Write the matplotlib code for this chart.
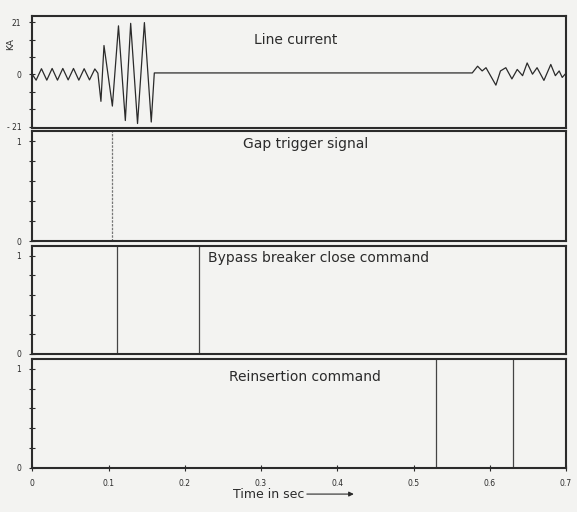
import matplotlib
matplotlib.use('Agg')
import matplotlib.pyplot as plt

# line current in kA, turning points
t_line = [0.000, 0.005, 0.012, 0.019, 0.026, 0.033, 0.040, 0.047, 0.054, 0.061,
          0.068, 0.075, 0.082, 0.086,
          0.090, 0.094, 0.105, 0.113, 0.122, 0.129, 0.138, 0.147, 0.156, 0.160,
          0.577, 0.584, 0.590, 0.595, 0.608, 0.614, 0.621, 0.629, 0.636, 0.643,
          0.649, 0.656, 0.662, 0.671, 0.680, 0.686, 0.691, 0.695, 0.700]
i_line = [0.0, -2.3, 2.3, -2.3, 2.4, -2.3, 2.4, -2.2, 2.4, -2.3,
          2.3, -2.2, 2.2, 0.5,
          -10.8, 11.6, -12.7, 19.5, -18.5, 20.5, -19.7, 20.8, -19.1, 0.6,
          0.6, 3.3, 1.4, 2.7, -4.3, 1.4, 2.7, -1.8, 2.0, -0.5,
          4.6, 0.1, 2.7, -2.4, 4.0, -0.5, 1.4, -1.2, 0.5]

# command / trigger pulses (s)
gap_trigger = [0.105]
bypass_close = [0.111, 0.219]
reinsertion = [0.529, 0.630]

x_ticks = [0, 0.1, 0.2, 0.3, 0.4, 0.5, 0.6, 0.7]
x_labels = ['0', '0.1', '0.2', '0.3', '0.4', '0.5', '0.6', '0.7']

plt.rcParams['font.family'] = ['DejaVu Sans']

bg = '#f3f3f1'
ink = '#2b2b2b'

fig = plt.figure(figsize=(5.77, 5.12), dpi=100, facecolor=bg)
boxes = [(0.056, 0.750, 0.925, 0.219),
         (0.056, 0.529, 0.925, 0.215),
         (0.056, 0.309, 0.925, 0.211),
         (0.056, 0.086, 0.925, 0.213)]
axes = [fig.add_axes(b, facecolor=bg) for b in boxes]

for ax in axes:
    ax.set_xlim(0, 0.7)
    for s in ax.spines.values():
        s.set_linewidth(1.5)
        s.set_color(ink)
    ax.tick_params(axis='y', direction='inout', length=4, width=0.8,
                   labelsize=5.5, colors=ink, pad=6)
    ax.tick_params(axis='x', bottom=False, labelbottom=False)

# panel 1: line current
ax = axes[0]
ax.plot(t_line, i_line, color=ink, lw=0.9)
ax.set_ylim(-21.5, 23.5)
ax.set_yticks([-21, -14, -7, 0, 7, 14, 21])
ax.set_yticklabels(['- 21', '', '', '0', '', '', '21'])
ax.set_ylabel('KA', fontsize=6.5, color=ink)
ax.yaxis.set_label_coords(-0.033, 0.75)
ax.text(0.345, 13.8, 'Line current', fontsize=10, ha='center', va='center', color=ink)

# pulse panels
pulse_sets = [gap_trigger, bypass_close, reinsertion]
titles = ['Gap trigger signal', 'Bypass breaker close command', 'Reinsertion command']
title_x = [0.358, 0.376, 0.358]
title_y = [0.97, 0.98, 0.92]
styles = [dict(color='#777777', lw=0.9, ls=(0, (2, 1))),
          dict(color='#444444', lw=0.9),
          dict(color='#444444', lw=0.9)]
for ax, pulses, title, tx, ty, st in zip(axes[1:], pulse_sets, titles, title_x, title_y, styles):
    for p in pulses:
        ax.axvline(p, **st)
    ax.set_ylim(0, 1.1)
    ax.set_yticks([0, 0.2, 0.4, 0.6, 0.8, 1.0])
    ax.set_yticklabels(['0', '', '', '', '', '1'])
    ax.text(tx, ty, title, fontsize=10, ha='center', va='center', color=ink)

# time axis on the bottom panel
ax = axes[3]
ax.tick_params(axis='x', bottom=True, labelbottom=True, direction='inout',
               length=4, width=0.8, labelsize=5.5, colors=ink, pad=6)
ax.set_xticks(x_ticks)
ax.set_xticklabels(x_labels)

fig.text(0.465, 0.035, 'Time in sec', fontsize=9, ha='center', va='center', color=ink)
fig.patches.append(matplotlib.patches.FancyArrowPatch(
    (0.527, 0.035), (0.618, 0.035), transform=fig.transFigure,
    arrowstyle='-|>', mutation_scale=7, lw=0.8, color=ink))

fig.savefig('out.png', dpi=100, facecolor=bg)
